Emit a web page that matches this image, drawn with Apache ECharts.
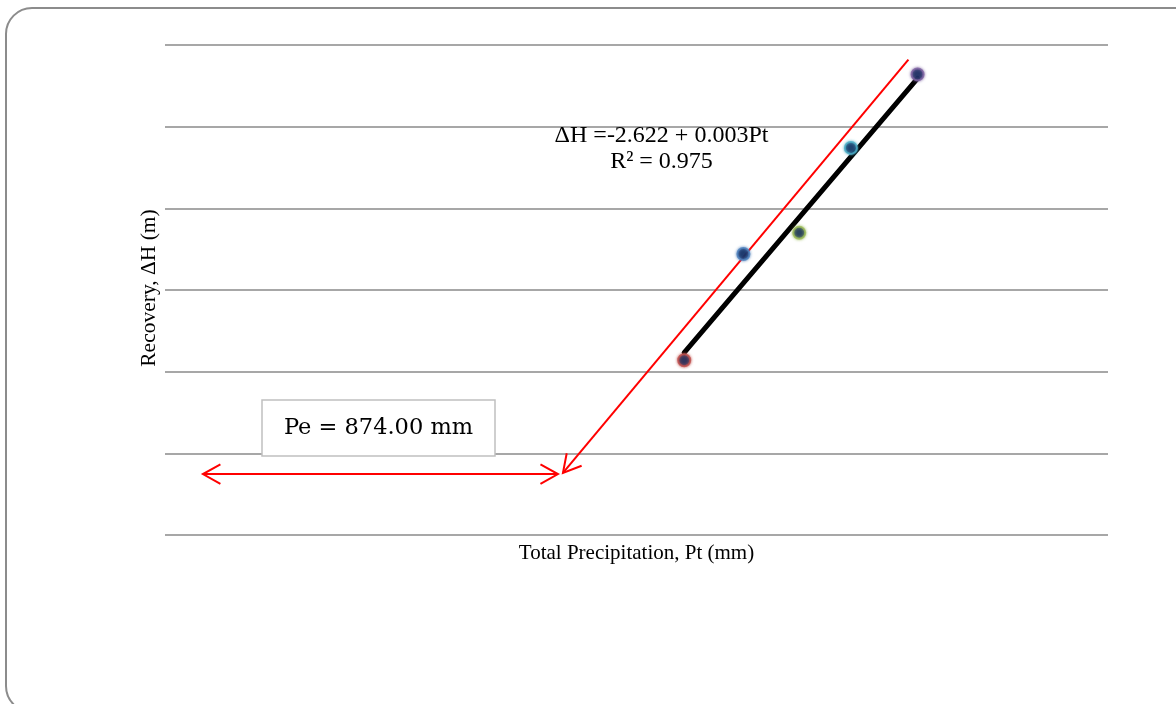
<!DOCTYPE html>
<html>
<head>
<meta charset="utf-8">
<script src="https://cdn.jsdelivr.net/npm/echarts@6/dist/echarts.min.js"></script>
<style>
  html, body { margin: 0; padding: 0; background: #ffffff; }
  #chart { width: 1176px; height: 704px; }
</style>
</head>
<body>
<div id="chart"></div>
<script>
// Observed total precipitation (mm) and water-level recovery (m)
const precipitation = [1246, 1388, 1522, 1646, 1806];
const recovery = [1.07, 1.72, 1.85, 2.37, 2.82];
const markerBorders = ['#c0504d', '#4f81bd', '#9bbb59', '#4bacc6', '#8064a2'];

// Linear fit  ΔH = a + b·Pt
const fitIntercept = -2.622;
const fitSlope = 0.003;
const rSquared = 0.975;

// Effective precipitation annotation
const peValue = 874.00;
const peArrow = [91, 0.373, 943, 0.373];          // x1, y1, x2, y2 (double-headed)
const interceptGuide = [955, 0.38, 1784, 2.91];   // x1, y1, x2, y2 (head at lower end)

// Axis titles
const xTitle = 'Total Precipitation, Pt (mm)';
const yTitle = 'Recovery, ΔH (m)';

// Axis ranges (labels hidden)
const xRange = [0, 2263];
const yRange = [0, 3];
const yStep = 0.5;

const fitX = [Math.min(...precipitation), Math.max(...precipitation)];
const fitLine = fitX.map(x => [x, fitIntercept + fitSlope * x]);

const chart = echarts.init(document.getElementById('chart'), null, { renderer: 'canvas' });

function arrowItem(params, api) {
  const a = api.coord([api.value(0), api.value(1)]);
  const b = api.coord([api.value(2), api.value(3)]);
  const headStart = api.value(4) === 1;
  const headEnd = api.value(5) === 1;
  const color = '#ff0000';
  const children = [{
    type: 'line',
    shape: { x1: a[0], y1: a[1], x2: b[0], y2: b[1] },
    style: { stroke: color, lineWidth: 2 }
  }];
  const head = (tip, from) => {
    const ang = Math.atan2(from[1] - tip[1], from[0] - tip[0]);
    const len = 20, spread = Math.PI / 6.2;
    return {
      type: 'polyline',
      shape: { points: [
        [tip[0] + len * Math.cos(ang + spread), tip[1] + len * Math.sin(ang + spread)],
        tip,
        [tip[0] + len * Math.cos(ang - spread), tip[1] + len * Math.sin(ang - spread)]
      ] },
      style: { stroke: color, lineWidth: 2, fill: null }
    };
  };
  if (headStart) children.push(head(a, b));
  if (headEnd) children.push(head(b, a));
  return { type: 'group', children };
}

const serifText = (text, x, y, size, rotation) => ({
  type: 'text', z: 50, x, y, rotation: rotation || 0, silent: true,
  style: {
    text, font: size + 'px "Liberation Serif", "Times New Roman", serif', fill: '#000000',
    textAlign: 'center', textVerticalAlign: 'middle'
  }
});

const option = {
  backgroundColor: '#ffffff',
  animation: false,
  grid: { left: 165, right: 68, top: 45, bottom: 169, containLabel: false },
  xAxis: {
    type: 'value',
    min: xRange[0], max: xRange[1],
    axisLine: { show: false }, axisTick: { show: false }, axisLabel: { show: false },
    splitLine: { show: false }
  },
  yAxis: {
    type: 'value',
    min: yRange[0], max: yRange[1], interval: yStep,
    axisLine: { show: false }, axisTick: { show: false }, axisLabel: { show: false },
    splitLine: { show: true, lineStyle: { color: '#8a8a8a', width: 1.7 } }
  },
  graphic: [
    {
      type: 'rect', z: -10, silent: true,
      shape: { x: 6, y: 8, width: 1220, height: 704, r: 26 },
      style: { fill: null, stroke: '#8c8c8c', lineWidth: 2 }
    },
    serifText(xTitle, 636.5, 553, 21),
    serifText(yTitle, 149, 288, 21.5, Math.PI / 2),
    serifText('ΔH =' + fitIntercept.toFixed(3) + ' + ' + fitSlope.toFixed(3) + 'Pt', 661.5, 136, 24),
    serifText('R² = ' + rSquared.toFixed(3), 661.5, 162, 24),
    {
      type: 'group', z: 100, x: 262, y: 400,
      children: [
        {
          type: 'rect', z: 100,
          shape: { x: 0, y: 0, width: 233, height: 56 },
          style: { fill: '#ffffff', stroke: '#c0c0c0', lineWidth: 1.5 }
        },
        {
          type: 'text', z: 101, x: 116.5, y: 28,
          style: {
            text: 'Pe = ' + peValue.toFixed(2) + ' mm',
            font: '22.5px "DejaVu Serif"', fill: '#000000',
            textAlign: 'center', textVerticalAlign: 'middle'
          }
        }
      ]
    }
  ],
  series: [
    {
      type: 'custom',
      name: 'annotations',
      renderItem: arrowItem,
      encode: { x: [0, 2], y: [1, 3] },
      z: 3,
      silent: true,
      data: [
        peArrow.concat([1, 1]),
        interceptGuide.concat([1, 0])
      ]
    },
    {
      type: 'line',
      name: 'fit',
      data: fitLine,
      showSymbol: false,
      z: 4,
      lineStyle: { color: '#000000', width: 5, cap: 'round' }
    },
    {
      type: 'scatter',
      name: 'observed',
      z: 5,
      symbolSize: 12,
      data: precipitation.map((x, i) => ({
        value: [x, recovery[i]],
        itemStyle: {
          color: '#0b2457',
          borderColor: markerBorders[i],
          borderWidth: 2,
          shadowBlur: 3,
          shadowColor: markerBorders[i]
        }
      }))
    }
  ]
};

chart.setOption(option);
</script>
</body>
</html>
